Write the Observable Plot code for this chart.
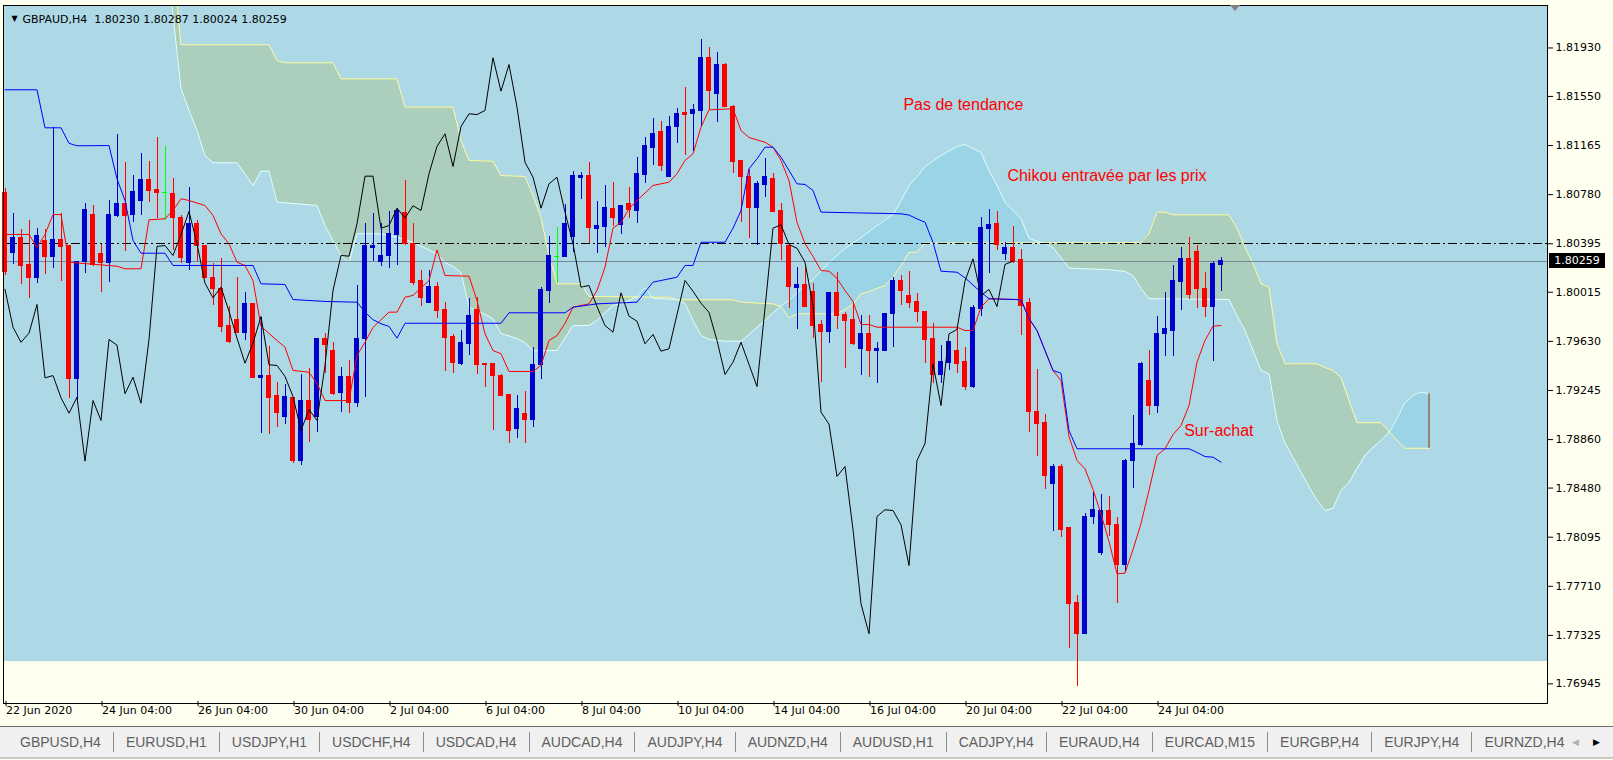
<!DOCTYPE html>
<html>
<head>
<meta charset="utf-8">
<script src="https://cdn.jsdelivr.net/npm/d3@7"></script>
<script src="https://cdn.jsdelivr.net/npm/@observablehq/plot@0.6"></script>
<style>
  body { margin: 0; background: #fffff0; overflow: hidden; }
  #chart { position: relative; width: 1613px; height: 760px; }
  #tabs { position: absolute; left: 0; top: 726px; width: 1568px; height: 30px; background: #f0f0f0;
          border-top: 1px solid #6e6e6e; border-bottom: 2px solid #c8c8c8; display: flex; align-items: center;
          overflow: hidden; font: 14px "Liberation Sans", Arial, sans-serif; color: #5f5f5f; }
  #tabs .tab { padding: 0 12px; border-right: 1px solid #8c8c8c; line-height: 20px; white-space: nowrap; }
  #tabs .tab:first-child { padding-left: 20px; }
  #arrows { position: absolute; left: 1568px; top: 726px; width: 45px; height: 30px; background: #f0f0f0;
            border-top: 1px solid #6e6e6e; border-bottom: 2px solid #c8c8c8; font-size: 9px; line-height: 30px; }
  .tag { position: absolute; background: #000; color: #fff; font: 11px "DejaVu Sans", sans-serif;
         width: 56px; height: 15px; line-height: 15px; text-align: center; }
  .shift { position: absolute; left: 1230px; top: 5px; width: 0; height: 0; border-left: 5px solid transparent;
           border-right: 5px solid transparent; border-top: 6px solid #808080; }
</style>
</head>
<body>
<div id="chart"></div>
<script>
// GBPAUD H4, bar 0 = 22 Jun 2020 04:00
const symbol = "GBPAUD,H4";

const opens = [
  1.80791,1.80321,1.80439,1.80225,1.80125,1.80413,1.80290,1.80428,1.80374,1.79336,
  1.80250,1.80624,1.80311,1.80243,1.80609,1.80703,1.80617,1.80734,1.80891,1.80813,
  1.80795,1.80787,1.80599,1.80243,1.80552,1.80381,1.80128,1.80042,1.79747,1.79799,
  1.79694,1.79919,1.79344,1.79362,1.79198,1.79035,1.79188,1.78691,1.79166,1.79035,
  1.79645,1.79551,1.79224,1.79349,1.79145,1.79645,1.80360,1.80250,1.80298,1.80465,
  1.80638,1.80395,1.80102,1.79929,1.80055,1.79872,1.79663,1.79454,1.79611,1.79872,
  1.79454,1.79454,1.79362,1.79206,1.78945,1.79057,1.79010,1.79441,1.80023,1.80298,
  1.80295,1.80446,1.80912,1.80925,1.80507,1.80525,1.80671,1.80546,1.80703,1.80650,
  1.80938,1.81144,1.81270,1.80917,1.81309,1.81419,1.81414,1.81434,1.81853,1.81571,
  1.81800,1.81471,1.81042,1.80922,1.80674,1.80852,1.80904,1.80648,1.80374,1.80050,
  1.80068,1.80015,1.79762,1.79707,1.80011,1.79833,1.79794,1.79572,1.79689,1.79553,
  1.79558,1.79846,1.80107,1.79982,1.79937,1.79859,1.79645,1.79370,1.79459,1.79558,
  1.79467,1.79276,1.79880,1.80507,1.80548,1.80316,1.80360,1.80264,1.79929,1.79080,
  1.78989,1.78508,1.78649,1.78165,1.77577,1.77338,1.78252,1.77969,1.78304,1.78194,
  1.77873,1.78691,1.78814,1.79321,1.79127,1.79689,1.79715,1.80094,1.80277,1.80334,
  1.80042,1.79903,1.80230
];
const highs = [
  1.80828,1.80630,1.80509,1.80577,1.80517,1.80509,1.81304,1.80630,1.80380,1.80256,
  1.80708,1.80693,1.80389,1.80734,1.81249,1.81032,1.80930,1.81100,1.81040,1.81226,
  1.81158,1.80904,1.80617,1.80834,1.80577,1.80385,1.80238,1.80282,1.79903,1.80128,
  1.80015,1.79925,1.79819,1.79592,1.79310,1.79290,1.79192,1.79370,1.79417,1.79645,
  1.79689,1.79619,1.79427,1.79480,1.80068,1.80556,1.80630,1.80556,1.80648,1.80669,
  1.80891,1.80556,1.80185,1.80185,1.80094,1.79937,1.79681,1.79715,1.79964,1.79976,
  1.79459,1.79459,1.79368,1.79210,1.79206,1.79239,1.79584,1.80055,1.80452,1.80520,
  1.80703,1.80961,1.80951,1.81030,1.80729,1.80852,1.80879,1.80693,1.80834,1.81074,
  1.81226,1.81375,1.81356,1.81393,1.81453,1.81618,1.81487,1.81994,1.81931,1.81897,
  1.81805,1.81475,1.81046,1.80975,1.80885,1.81061,1.80944,1.80708,1.80378,1.80211,
  1.80211,1.80081,1.79794,1.80011,1.80172,1.79859,1.79937,1.79833,1.79833,1.79623,
  1.79841,1.80133,1.80146,1.80178,1.80003,1.79866,1.79768,1.79600,1.79623,1.79741,
  1.79584,1.79911,1.80603,1.80664,1.80648,1.80407,1.80533,1.80350,1.79968,1.79409,
  1.79057,1.78662,1.78664,1.78173,1.77638,1.78283,1.78448,1.78430,1.78414,1.78252,
  1.78704,1.79049,1.79467,1.79558,1.79825,1.80015,1.80225,1.80368,1.80446,1.80381,
  1.80172,1.80256,1.80287
];
const lows = [
  1.80146,1.80230,1.80073,1.79964,1.80081,1.80154,1.80199,1.80099,1.79184,1.79140,
  1.80164,1.80220,1.80015,1.80094,1.80603,1.80337,1.80564,1.80617,1.80721,1.80591,
  1.80577,1.80342,1.80238,1.80185,1.80256,1.80120,1.79911,1.79697,1.79611,1.79690,
  1.79637,1.79340,1.78905,1.78898,1.78952,1.78976,1.78670,1.78657,1.78840,1.78916,
  1.79376,1.79206,1.79075,1.79067,1.79114,1.79188,1.80258,1.80217,1.80203,1.80225,
  1.80381,1.80068,1.79906,1.79924,1.79807,1.79394,1.79376,1.79441,1.79519,1.79368,
  1.79271,1.78931,1.79195,1.78832,1.78866,1.78827,1.78957,1.79329,1.79924,1.80081,
  1.80290,1.80329,1.80740,1.80400,1.80321,1.80368,1.80534,1.80468,1.80591,1.80552,
  1.80870,1.81009,1.80964,1.80912,1.81179,1.81087,1.81121,1.81309,1.81440,1.81348,
  1.81461,1.80944,1.80564,1.80434,1.80381,1.80760,1.80640,1.80264,1.79885,1.79721,
  1.79900,1.79650,1.79310,1.79611,1.79721,1.79415,1.79600,1.79362,1.79349,1.79297,
  1.79553,1.79580,1.79911,1.79885,1.79780,1.79459,1.79297,1.79297,1.79402,1.79380,
  1.79245,1.79263,1.79825,1.80164,1.80342,1.80264,1.80243,1.79676,1.78918,1.78730,
  1.78471,1.78142,1.78095,1.77220,1.76924,1.77332,1.78192,1.77951,1.78100,1.77573,
  1.77820,1.78479,1.78806,1.79049,1.79067,1.79511,1.79511,1.79872,1.79956,1.79885,
  1.79819,1.79472,1.80024
];
const closes = [
  1.80172,1.80439,1.80219,1.80125,1.80452,1.80290,1.80421,1.80368,1.79336,1.80256,
  1.80656,1.80230,1.80243,1.80617,1.80703,1.80609,1.80797,1.80891,1.80807,1.80795,
  1.80795,1.80595,1.80282,1.80552,1.80376,1.80125,1.80037,1.79741,1.79623,1.79694,
  1.79919,1.79344,1.79362,1.79188,1.79067,1.79192,1.78691,1.79166,1.79010,1.79645,
  1.79600,1.79219,1.79349,1.79145,1.79645,1.80374,1.80381,1.80303,1.80468,1.80648,
  1.80395,1.80086,1.79971,1.80055,1.79866,1.79655,1.79459,1.79616,1.79825,1.79446,
  1.79441,1.79355,1.79198,1.78931,1.79096,1.79010,1.79441,1.80029,1.80303,1.80298,
  1.80552,1.80925,1.80925,1.80517,1.80538,1.80674,1.80597,1.80693,1.80656,1.80944,
  1.81158,1.81257,1.81001,1.81314,1.81414,1.81408,1.81440,1.81853,1.81591,1.81800,
  1.81466,1.81034,1.80917,1.80674,1.80865,1.80917,1.80643,1.80395,1.80055,1.80068,
  1.79903,1.79754,1.79702,1.80011,1.79827,1.79788,1.79611,1.79684,1.79553,1.79572,
  1.79841,1.80107,1.80023,1.79929,1.79857,1.79637,1.79370,1.79467,1.79623,1.79449,
  1.79276,1.79890,1.80517,1.80544,1.80389,1.80360,1.80250,1.79911,1.79075,1.78981,
  1.78571,1.78649,1.78155,1.77573,1.77338,1.78257,1.78310,1.78304,1.78192,1.77873,
  1.78696,1.78829,1.79454,1.79127,1.79689,1.79723,1.80102,1.80277,1.79990,1.80037,
  1.79903,1.80233,1.80259
];

// Tenkan-sen (red) read at its turning bars
const tenkanIdx = [
  0,3,4,5,6,7,8,14,15,17, 18,20,21,22,23,25,26,27,28,29,
  30,31,32,34,35,36,38,39,40,43, 44,45,46,48,49,50,51,53,54,55,
  58,59,60,61,62,63,66,67,68,69, 70,71,73,74,75,76,77,78,79,81,
  83,84,85,86,87,88,91,92,93,95, 96,97,98,99,100,101,102,103,104,105,
  106,107,108,109,119,120,121,122,123,127, 128,129,130,131,132,133,134,135,136,137,
  138,139,140,141,142,143,144,145,146,147, 148,149,150,151,152
];
const tenkanVal = [
  1.80468,1.80468,1.80368,1.80468,1.80624,1.80624,1.80250,1.80219,1.80199,1.80199,
  1.80583,1.80591,1.80656,1.80748,1.80734,1.80695,1.80617,1.80473,1.80395,1.80250,
  1.80225,1.80107,1.79747,1.79637,1.79584,1.79402,1.79388,1.79300,1.79166,1.79166,
  1.79519,1.79623,1.79739,1.79859,1.79859,1.79976,1.79990,1.80107,1.80347,1.80146,
  1.80141,1.79950,1.79689,1.79558,1.79533,1.79394,1.79394,1.79441,1.79637,1.79676,
  1.79770,1.79898,1.79924,1.80029,1.80211,1.80517,1.80562,1.80669,1.80734,1.80852,
  1.80878,1.80944,1.81048,1.81100,1.81309,1.81445,1.81453,1.81283,1.81228,1.81191,
  1.81152,1.81048,1.80891,1.80562,1.80397,1.80295,1.80185,1.80180,1.80123,1.80029,
  1.79943,1.79762,1.79762,1.79741,1.79741,1.79715,1.79715,1.79898,1.79964,1.79958,
  1.79809,1.79715,1.79558,1.79402,1.79323,1.78884,1.78696,1.78631,1.78469,1.78278,
  1.78061,1.77808,1.77813,1.77998,1.78202,1.78461,1.78735,1.78788,1.78900,1.78970,
  1.79127,1.79467,1.79637,1.79749,1.79754
];

// Kijun-sen (blue)
const kijunIdx = [
  0,4,5,7,8,9,13,14,15,16, 17,20,21,31,32,35,36,40,44,45,
  46,47,48,49,50,62,63,70,71,74, 79,81,84,85,86,87,90,91,92,93,
  94,95,96,97,99,100,101,102,112,113, 114,115,116,117,119,120,122,123,127,128,
  129,130,131,132,133,134,148,149,150,151, 152
];
const kijunVal = [
  1.81602,1.81602,1.81304,1.81304,1.81183,1.81163,1.81165,1.80904,1.80734,1.80421,
  1.80321,1.80321,1.80225,1.80225,1.80081,1.80076,1.79958,1.79943,1.79937,1.79859,
  1.79800,1.79768,1.79747,1.79655,1.79772,1.79772,1.79854,1.79854,1.79898,1.79924,
  1.79937,1.80094,1.80133,1.80225,1.80225,1.80407,1.80407,1.80517,1.80656,1.80983,
  1.81061,1.81152,1.81152,1.81074,1.80865,1.80860,1.80813,1.80643,1.80630,1.80620,
  1.80590,1.80564,1.80407,1.80180,1.80172,1.80128,1.80015,1.79964,1.79956,1.79809,
  1.79715,1.79558,1.79402,1.79380,1.78931,1.78788,1.78788,1.78759,1.78727,1.78722,
  1.78683
];

// Kumo: yellow span and cyan span, shifted 26 bars ahead (bars above 1.8226 are off screen)
const cloudIdx = [
  0,19,20,21,22,23,24,25,26,29, 31,32,33,34,35,39,40,41,42,43,
  44,47,49,50,51,54,55,56,57,58, 60,61,62,64,65,66,67,68,69,71,
  72,73,74,75,76,77,78,79,80,81, 83,84,85,86,87,88,90,91,92,93,
  95,96,97,98,99,100,101,103,104,105, 106,107,108,109,110,111,112,113,114,115,
  117,119,120,122,123,124,125,127,128,130, 131,133,135,138,140,141,142,143,144,145,
  146,153,154,155,156,157,158,159,160,161, 162,163,164,165,166,167,168,169,170,171,
  172,173,174,175,176,177,178
];
const spanYellow = [
  1.82900,1.82900,1.82900,1.82616,1.81955,1.81955,1.81955,1.81955,1.81955,1.81955,
  1.81955,1.81955,1.81955,1.81832,1.81814,1.81814,1.81814,1.81814,1.81688,1.81688,
  1.81688,1.81688,1.81688,1.81466,1.81466,1.81466,1.81466,1.81466,1.81205,1.81048,
  1.81044,1.81042,1.80930,1.80925,1.80922,1.80773,1.80601,1.80303,1.80081,1.80081,
  1.80081,1.79982,1.79981,1.79981,1.79980,1.79980,1.79979,1.79978,1.79978,1.79977,
  1.79976,1.79956,1.79956,1.79956,1.79956,1.79956,1.79956,1.79956,1.79937,1.79934,
  1.79927,1.79924,1.79903,1.79815,1.79846,1.79846,1.79846,1.79846,1.79846,1.79880,
  1.79919,1.80003,1.80021,1.80045,1.80068,1.80131,1.80225,1.80327,1.80329,1.80400,
  1.80400,1.80400,1.80401,1.80401,1.80401,1.80401,1.80402,1.80402,1.80402,1.80402,
  1.80403,1.80403,1.80403,1.80403,1.80403,1.80405,1.80407,1.80473,1.80643,1.80643,
  1.80622,1.80622,1.80515,1.80366,1.80240,1.80081,1.80055,1.79611,1.79454,1.79454,
  1.79454,1.79454,1.79454,1.79425,1.79402,1.79347,1.79166,1.78992,1.78992,1.78992,
  1.78992,1.78923,1.78853,1.78792,1.78792,1.78792,1.78792
];
const spanCyan = [
  1.82800,1.82800,1.82772,1.82184,1.81612,1.81440,1.81283,1.81087,1.81030,1.81030,
  1.80852,1.80964,1.80964,1.80721,1.80716,1.80695,1.80538,1.80420,1.80303,1.80250,
  1.80473,1.80473,1.80446,1.80427,1.80407,1.80316,1.80248,1.80217,1.80170,1.79898,
  1.79841,1.79807,1.79692,1.79652,1.79621,1.79558,1.79558,1.79558,1.79558,1.79754,
  1.79754,1.79754,1.79794,1.79856,1.79911,1.79927,1.79950,1.79982,1.80052,1.79966,
  1.79961,1.79958,1.79927,1.79794,1.79676,1.79645,1.79631,1.79631,1.79631,1.79684,
  1.79794,1.79852,1.79911,1.79950,1.80009,1.80068,1.80115,1.80248,1.80303,1.80358,
  1.80401,1.80444,1.80491,1.80538,1.80581,1.80624,1.80734,1.80852,1.80922,1.81001,
  1.81087,1.81158,1.81173,1.81111,1.80969,1.80852,1.80719,1.80593,1.80436,1.80397,
  1.80366,1.80205,1.80199,1.80191,1.80178,1.80146,1.80044,1.79964,1.79964,1.79963,
  1.79963,1.79958,1.79833,1.79715,1.79560,1.79402,1.79376,1.79010,1.78832,1.78720,
  1.78602,1.78492,1.78383,1.78304,1.78320,1.78461,1.78524,1.78633,1.78735,1.78798,
  1.78853,1.78916,1.79025,1.79151,1.79206,1.79232,1.79219
];

const chikouShift = 26;
const levelLine = 1.80395;
const bgRectBottom = 1.77120;

const yTicks = [1.81930,1.81550,1.81165,1.80780,1.80395,1.80015,1.79630,1.79245,1.78860,1.78480,1.78095,1.77710,1.77325,1.76945];
const xTickIdx = [0,12,24,36,48,60,72,84,96,108,120,132,144];
const xTickLabels = ["22 Jun 2020","24 Jun 04:00","26 Jun 04:00","30 Jun 04:00","2 Jul 04:00","6 Jul 04:00","8 Jul 04:00",
                     "10 Jul 04:00","14 Jul 04:00","16 Jul 04:00","20 Jul 04:00","22 Jul 04:00","24 Jul 04:00"];

const notes = [
  {text: "Pas de tendance", bar: 112.3, price: 1.81487},
  {text: "Chikou entravée par les prix", bar: 125.3, price: 1.80930},
  {text: "Sur-achat", bar: 147.4, price: 1.78931}
];
const tabs = ["GBPUSD,H4","EURUSD,H1","USDJPY,H1","USDCHF,H4","USDCAD,H4","AUDCAD,H4","AUDJPY,H4","AUDNZD,H4",
              "AUDUSD,H1","CADJPY,H4","EURAUD,H4","EURCAD,M15","EURGBP,H4","EURJPY,H4","EURNZD,H4"];

const W = 1613, H = 760;
const mRight = 66;
const xDomain = [-0.1875, 192.8125];
const yDomain = [1.767912, 1.822628];

const fmt = d => d.toFixed(5);
const n = closes.length;
const bars = d3.range(n);
const cloud = d3.range(cloudIdx.length);
const bw = 0.27;
const colorOf = i => closes[i] > opens[i] ? "#0000cd" : closes[i] < opens[i] ? "#ff0000" : "#00ff00";
const last = n - 1;
const header = `${symbol}\u00a0\u00a0${fmt(opens[last])} ${fmt(highs[last])} ${fmt(lows[last])} ${fmt(closes[last])}`;

const chart = Plot.plot({
  width: W,
  height: H,
  marginLeft: 3,
  marginRight: mRight,
  marginTop: 5,
  marginBottom: 57,
  x: {domain: xDomain, axis: null},
  y: {domain: yDomain, axis: null},
  color: {type: "identity"},
  style: {background: "transparent", fontFamily: "DejaVu Sans, sans-serif", fontSize: "11px", overflow: "visible"},
  marks: [
    Plot.rect([0], {x1: xDomain[0], x2: xDomain[1], y1: bgRectBottom, y2: yDomain[1], fill: "#add8e6"}),

    // kumo
    Plot.area(cloud, {x1: i => cloudIdx[i], y1: i => spanCyan[i], y2: i => spanYellow[i], fill: "#abcfbc", clip: true}),
    Plot.area(cloud, {x1: i => cloudIdx[i], y1: i => spanYellow[i], y2: i => Math.max(spanYellow[i], spanCyan[i]), fill: "#9ad4e6", clip: true}),
    Plot.line(cloud, {x: i => cloudIdx[i], y: i => spanYellow[i], stroke: "#fffb9e", strokeWidth: 1, clip: true}),
    Plot.line(cloud, {x: i => cloudIdx[i], y: i => spanCyan[i], stroke: "#e0ffff", strokeWidth: 1, clip: true}),
    Plot.ruleX([cloud.length - 1], {x: i => cloudIdx[i], y1: i => spanCyan[i], y2: i => spanYellow[i], stroke: "#8b2a0a"}),

    // level lines
    Plot.ruleY([levelLine], {stroke: "#000", strokeDasharray: "9,3,2,3", shapeRendering: "crispEdges"}),
    Plot.ruleY([closes[last]], {stroke: "#778899", shapeRendering: "crispEdges"}),

    // candles
    Plot.ruleX(bars, {x: i => i, y1: i => lows[i], y2: i => highs[i], stroke: colorOf, shapeRendering: "crispEdges"}),
    Plot.rect(bars.filter(i => opens[i] !== closes[i]), {
      x1: i => i - bw, x2: i => i + bw, y1: i => opens[i], y2: i => closes[i],
      fill: colorOf, stroke: colorOf, shapeRendering: "crispEdges"
    }),
    Plot.ruleY(bars.filter(i => opens[i] === closes[i]), {x1: i => i - bw - 0.06, x2: i => i + bw + 0.06, y: i => closes[i], stroke: "#00ff00", shapeRendering: "crispEdges"}),

    // ichimoku lines
    Plot.line(d3.range(tenkanIdx.length), {x: k => tenkanIdx[k], y: k => tenkanVal[k], stroke: "#ff0000", strokeWidth: 1}),
    Plot.line(d3.range(kijunIdx.length), {x: k => kijunIdx[k], y: k => kijunVal[k], stroke: "#0000ff", strokeWidth: 1}),
    Plot.line(d3.range(n - chikouShift), {x: i => i, y: i => closes[i + chikouShift], stroke: "#000", strokeWidth: 1}),

    // notes
    Plot.text(notes, {x: "bar", y: "price", text: "text", textAnchor: "start", fill: "#ff0000",
                      fontSize: 16, fontFamily: "Liberation Sans, Arial, sans-serif"}),

    // header
    Plot.text(["\u25bc"], {frameAnchor: "top-left", dx: 8, dy: 10, fontSize: 8, fill: "#000"}),
    Plot.text([header], {frameAnchor: "top-left", dx: 19, dy: 10, textAnchor: "start", fontSize: 11, fill: "#000"}),

    // axes
    Plot.axisY(yTicks, {anchor: "right", tickSize: 5, tickPadding: 3, tickFormat: fmt, label: null, fontSize: 11}),
    Plot.axisX(xTickIdx, {anchor: "bottom", tickSize: 5, tickPadding: 0, label: null, fontSize: 11,
                          tickFormat: d => xTickLabels[xTickIdx.indexOf(d)], textAnchor: "start", dx: 1, dy: -2}),
    Plot.frame({stroke: "#000", shapeRendering: "crispEdges"})
  ]
});

const root = d3.select("#chart");
root.append(() => chart);

// bid price tag on the price scale
const yBid = chart.scale("y").apply(closes[last]);
root.append("div").attr("class", "tag")
  .style("left", (W - mRight + 2) + "px")
  .style("top", (yBid - 7.5) + "px")
  .text(fmt(closes[last]));

root.append("div").attr("class", "shift");

// symbol tabs
const tabBar = root.append("div").attr("id", "tabs");
tabBar.selectAll("div").data(tabs).join("div").attr("class", "tab").text(d => d);
root.append("div").attr("id", "arrows")
  .html('<span style="color:#b0b0b0;margin-left:4px">&#9664;</span><span style="color:#000;margin-left:14px">&#9654;</span>');
</script>
</body>
</html>
